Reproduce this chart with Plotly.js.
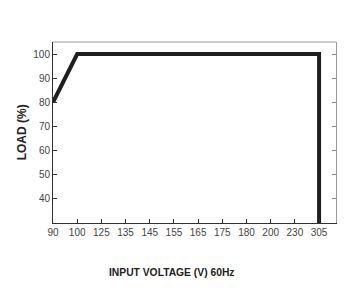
<!DOCTYPE html>
<html><head><meta charset="utf-8">
<script src="https://cdn.plot.ly/plotly-3.0.1.min.js"></script>
<style>html,body{margin:0;padding:0;background:#fff}#c{width:349px;height:298px}</style>
</head><body><div id="c"></div>
<script>
var categories = ['90','100','125','135','145','155','165','175','180','200','230','305'];
var yTicks = [40,50,60,70,80,90,100];
// curve points: category index and load (%)
var curveCat = ['90','100','305','305'];
var curveLoad = [80,100,100,30];

var xIdx = curveCat.map(function(c){return categories.indexOf(c);});
var tickIdx = categories.map(function(c,i){return i;});
var tickFont = {family:'"Liberation Sans Narrow", "Arial Narrow", Arial, sans-serif', size:10, color:'#444'};

var traces = [
  {x:xIdx, y:curveLoad, mode:'lines', line:{color:'#1e1e1e', width:4}, hoverinfo:'skip', cliponaxis:true},
  {x:xIdx, y:curveLoad, yaxis:'y2', mode:'lines', line:{color:'rgba(0,0,0,0)', width:0}, hoverinfo:'skip'}
];
var layout = {
  width:349, height:298,
  margin:{l:53, r:13, t:42, b:75},
  showlegend:false,
  paper_bgcolor:'#fff', plot_bgcolor:'#fff',
  xaxis:{range:[0,11.7], tickvals:tickIdx, ticktext:categories, ticks:'inside', ticklen:4, tickcolor:'#333',
         showline:true, linecolor:'#333', linewidth:1, showgrid:false, zeroline:false, tickfont:tickFont, fixedrange:true},
  yaxis:{range:[30,105], tickvals:yTicks, ticks:'inside', ticklen:4, tickcolor:'#333',
         showline:true, linecolor:'#333', linewidth:1, showgrid:false, zeroline:false, tickfont:tickFont, fixedrange:true},
  yaxis2:{range:[30,105], overlaying:'y', side:'right', tickvals:yTicks, showticklabels:false, ticks:'inside', ticklen:4,
          tickcolor:'#888', showline:true, linecolor:'#999', linewidth:1, showgrid:false, zeroline:false, fixedrange:true},
  shapes:[
    {type:'line', xref:'paper', yref:'paper', x0:0, x1:1, y0:1, y1:1, line:{color:'#999', width:1}}
  ],
  annotations:[
    {text:'<b>LOAD (%)</b>', xref:'paper', yref:'paper', x:-0.11, y:0.5, xanchor:'center', yanchor:'middle', textangle:-90, showarrow:false,
     font:{family:'"Liberation Sans Narrow", Arial, sans-serif', size:12, color:'#222'}},
    {text:'<b>INPUT VOLTAGE (V) 60Hz</b>', xref:'paper', yref:'paper', x:0.418, y:-0.276, xanchor:'center', yanchor:'middle', showarrow:false,
     font:{family:'"Liberation Sans Narrow", Arial, sans-serif', size:10.3, color:'#222'}}
  ]
};
Plotly.newPlot('c', traces, layout, {staticPlot:true, displayModeBar:false});
</script></body></html>
